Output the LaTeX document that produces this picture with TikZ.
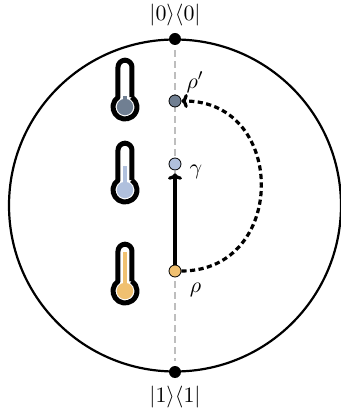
\documentclass[tikz,border=0pt]{standalone}
\usepackage{amsmath,amssymb}
\usepackage{xcolor}
\usetikzlibrary{arrows.meta,positioning}
\definecolor{hotC}{RGB}{240,192,112}
\definecolor{midC}{RGB}{176,192,221}
\definecolor{coldC}{RGB}{112,127,146}
\definecolor{axisC}{RGB}{190,190,190}
\tikzset{
  pole/.style={circle,fill=black,minimum size=6pt,inner sep=0pt},
  state/.style={circle,draw=black,line width=0.4pt,minimum size=6pt,inner sep=0pt},
  lab/.style={inner sep=0pt,font=\fontsize{11}{13}\selectfont},
  evol/.style={line width=1.6pt,-{To[width=7pt,length=3.2pt]}},
  pics/thermo/.style 2 args={code={
    \fill[#1] (0,0) circle[radius=8.2];
    \fill[#1] (-1.8,0) rectangle (1.8,#2);
    \draw[line width=2.5pt,line join=round] (7,9.75) -- (7,39.8)
       arc[start angle=0,end angle=180,radius=7] -- (-7,9.75)
       arc[start angle=125.7,end angle=414.3,radius=12];
  }},
}
\begin{document}
\begin{tikzpicture}[x=0.5pt,y=0.5pt]
  \useasboundingbox (-175,-211.5) rectangle (166,205.5);
  \draw[line width=1.1pt] (0,0) circle[radius=166];
  \node[pole] (top) at (0,166.5) {};
  \node[pole] (bot) at (0,-166.5) {};
  \draw[axisC,line width=0.9pt,dash pattern=on 3.3pt off 2.2pt,shorten <=2.5pt,shorten >=2.5pt] (top) -- (bot);
  \node[lab] (toplab) at (0,190.5) {$|0\rangle\langle 0|$};
  \node[lab] (botlab) at (0,-191.5) {$|1\rangle\langle 1|$};
  % states on the axis
  \node[state,fill=coldC] (rhop) at (0,104.5) {};
  \node[state,fill=midC] (gam) at (0,41.5) {};
  \node[state,fill=hotC] (rho) at (0,-65.5) {};
  \node[lab] (rhoplab) at (20,123) {$\rho'$};
  \node[lab] (gamlab) at (21,33.5) {$\gamma$};
  \node[lab] (rholab) at (20.5,-84) {$\rho$};
  \draw[evol,shorten >=1.5pt] (rho) -- (gam);
  \draw[evol,dash pattern=on 2.6pt off 1.7pt] (rho) to[out=0,in=0,looseness=1.6] (rhop);
  % thermometers
  \pic at (-50,98.5) {thermo={coldC}{11}};
  \pic at (-50,15.5) {thermo={midC}{24}};
  \pic at (-50,-85.5) {thermo={hotC}{39}};
\end{tikzpicture}
\end{document}
